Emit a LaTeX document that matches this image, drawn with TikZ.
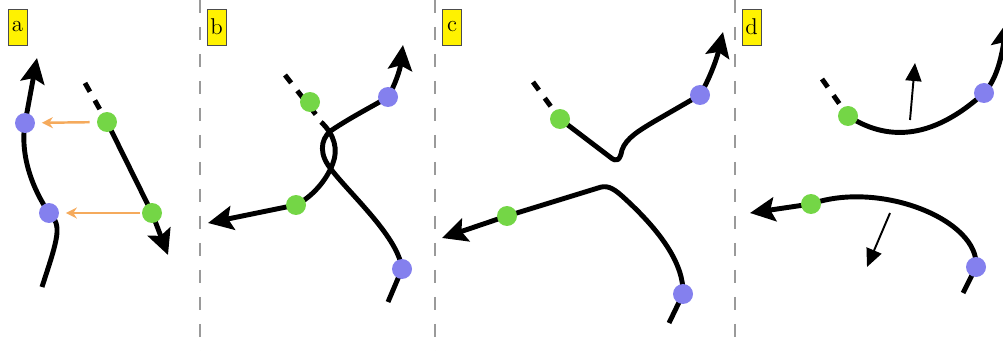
\documentclass[tikz,border=0pt]{standalone}
\usetikzlibrary{arrows.meta}
\definecolor{dotblue}{HTML}{8480EE}
\definecolor{dotgreen}{HTML}{74D646}
\definecolor{movecol}{HTML}{F5AA5C}
\definecolor{sepgray}{HTML}{9A9A9A}
\begin{document}
\begin{tikzpicture}[x=0.02cm,y=-0.02cm,
  strand/.style={line width=2.8pt,line join=round},
  tail/.style={strand,dash pattern=on 0.2cm off 0.2cm},
  ahead/.style={-{Stealth[length=0.5cm,width=0.48cm,inset=0.09cm]}},
  bdot/.style={circle,fill=dotblue,minimum size=0.4cm,inner sep=0pt},
  gdot/.style={circle,fill=dotgreen,minimum size=0.4cm,inner sep=0pt},
  move/.style={draw=movecol,line width=1.4pt,-{Stealth[length=0.22cm,width=0.22cm]},shorten >=0.13cm},
  nvec/.style={line width=1.1pt,-{Triangle[length=0.36cm,width=0.32cm]}},
  sep/.style={draw=sepgray,line width=1.1pt,dash pattern=on 0.26cm off 0.28cm},
  panel/.style={draw=black!70,fill=yellow,minimum width=0.38cm,minimum height=0.72cm,inner sep=0pt,font=\fontsize{13}{15}\selectfont}]
\useasboundingbox (0,0) rectangle (1003,351);
\clip (0,0) rectangle (1003,351);
\draw[sep] (200,0) -- (200,351);
\draw[sep] (435,0) -- (435,351);
\draw[sep] (735,0) -- (735,351);
\node[panel] (la) at (17.5,27) {a};
\node[panel] (lb) at (216.5,27) {b};
\node[panel] (lc) at (452,27) {c};
\node[panel] (ld) at (751.5,27) {d};
% a
\coordinate (ab1) at (25,123);
\coordinate (ab2) at (49,213);
\coordinate (ag1) at (107,122);
\coordinate (ag2) at (152,213);
\coordinate (abot) at (42,287);
\coordinate (atop) at (37,58);
\coordinate (atail) at (85,83);
\coordinate (atip) at (168,255);
\draw[strand,ahead] (abot) .. controls (50,262) and (58,240) .. (57,228) .. controls (56,220) and (53,216) .. (ab2) .. controls (32,188) and (20,155) .. (ab1) -- (atop);
\draw[tail] (atail) -- (ag1);
\draw[strand,ahead] (ag1) -- (ag2) -- (atip);
\node[bdot] (ab1d) at (ab1) {};
\node[bdot] (ab2d) at (ab2) {};
\node[gdot] (ag1d) at (ag1) {};
\node[gdot] (ag2d) at (ag2) {};
\draw[move,shorten <=0.14cm] (ag1d) -- (ab1d);
\draw[move,shorten <=0.04cm] (ag2d) -- (ab2d);
% b
\coordinate (bb1) at (388,97);
\coordinate (bb2) at (402,269);
\coordinate (bg1) at (310,102);
\coordinate (bg2) at (296,205);
\coordinate (bbot) at (388,302);
\coordinate (btop) at (403,45);
\coordinate (btail) at (285,75);
\coordinate (btailend) at (317,116);
\coordinate (bgs) at (321,122);
\coordinate (btip) at (208,223);
\draw[strand,ahead] (bbot) -- (bb2) .. controls (398,235) and (345,190) .. (328,165) .. controls (318,150) and (322,135) .. (335,128) .. controls (355,115) and (375,105) .. (bb1) .. controls (395,85) and (400,70) .. (btop);
\draw[tail] (btail) -- (btailend);
\draw[strand,ahead] (bgs) .. controls (335,135) and (338,150) .. (333,163) .. controls (327,180) and (312,197) .. (bg2) -- (btip);
\node[bdot] (bb1d) at (bb1) {};
\node[bdot] (bb2d) at (bb2) {};
\node[gdot] (bg1d) at (bg1) {};
\node[gdot] (bg2d) at (bg2) {};
% c
\coordinate (cb1) at (700,95);
\coordinate (cb2) at (683,294);
\coordinate (cg1) at (560,119);
\coordinate (cg2) at (507,216);
\coordinate (ctail) at (533,82);
\coordinate (ctop) at (723,32);
\coordinate (cbot) at (669,323);
\coordinate (ctip) at (442,238);
\draw[tail] (ctail) -- (cg1);
\draw[strand,ahead] (cg1) -- (610,157) .. controls (617,163) and (620,160) .. (622,150) .. controls (626,138) and (640,130) .. (655,121) -- (cb1) .. controls (710,78) and (717,58) .. (ctop);
\draw[strand,ahead] (cbot) -- (cb2) .. controls (684,265) and (662,232) .. (622,196) .. controls (612,187) and (606,185) .. (598,188) -- (cg2) -- (ctip);
\node[bdot] (cb1d) at (cb1) {};
\node[bdot] (cb2d) at (cb2) {};
\node[gdot] (cg1d) at (cg1) {};
\node[gdot] (cg2d) at (cg2) {};
% d
\coordinate (db1) at (984,93);
\coordinate (db2) at (976,267);
\coordinate (dg1) at (848,116);
\coordinate (dg2) at (811,204);
\coordinate (dtail) at (822,79);
\coordinate (dtop) at (1007,22);
\coordinate (dbot) at (963,293);
\coordinate (dtip) at (750,213);
\coordinate (nu1) at (910,120);
\coordinate (nu2) at (915,63);
\coordinate (nd1) at (890,213);
\coordinate (nd2) at (867,267);
\draw[tail] (dtail) -- (dg1);
\draw[strand,ahead] (dg1) .. controls (885,140) and (930,142) .. (db1) .. controls (996,80) and (1001,60) .. (dtop);
\draw[strand,ahead] (dbot) -- (db2) .. controls (980,220) and (880,180) .. (dg2) -- (dtip);
\draw[nvec] (nu1) -- (nu2);
\draw[nvec] (nd1) -- (nd2);
\node[bdot] (db1d) at (db1) {};
\node[bdot] (db2d) at (db2) {};
\node[gdot] (dg1d) at (dg1) {};
\node[gdot] (dg2d) at (dg2) {};
\end{tikzpicture}
\end{document}
